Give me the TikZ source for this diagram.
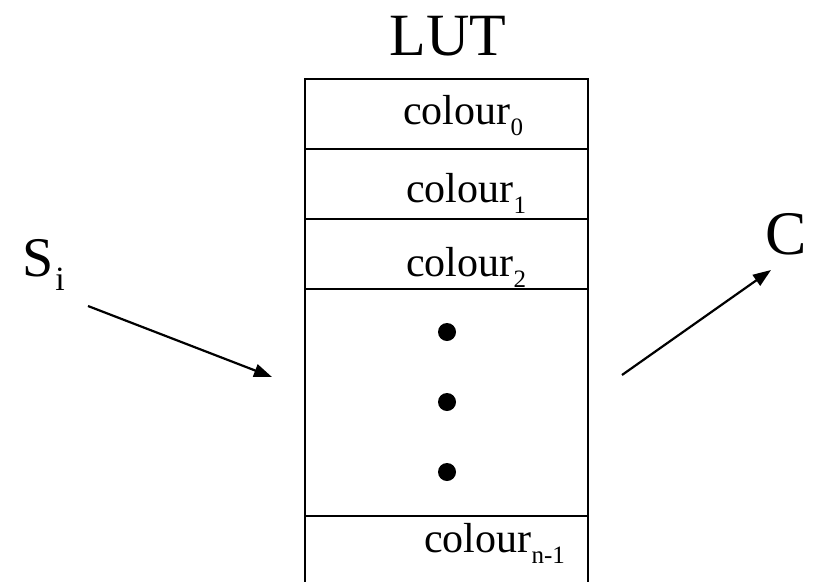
\documentclass[tikz,border=0pt]{standalone}
\usepackage{fontspec}
\setmainfont{Liberation Serif}
\usetikzlibrary{arrows.meta}

% subscript helper: size, drop, text
\newcommand\lowsub[3]{\raisebox{-#2}{\fontsize{#1}{#1}\selectfont #3}}

\tikzset{
  rule/.style={line width=2.4pt, line cap=rect},
  entry/.style={anchor=base west, inner sep=0pt, font=\fontsize{42pt}{46pt}\selectfont},
  label/.style={inner sep=0pt},
  flow/.style={line width=2.2pt, -{Triangle[length=18pt,width=13pt]}},
  dot/.style={circle, fill=black, inner sep=0pt, minimum size=18pt},
}

\begin{document}
\begin{tikzpicture}[x=1pt,y=-1pt]
  \useasboundingbox (0,0) rectangle (821,581);

  % table outline (runs past the lower edge)
  \draw[rule] (305,590) -- (305,79) -- (588,79) -- (588,590);
  \draw[rule] (305,149) -- (588,149);
  \draw[rule] (305,219) -- (588,219);
  \draw[rule] (305,289) -- (588,289);
  \draw[rule] (305,516) -- (588,516);

  % title
  \node[label, anchor=base, font=\fontsize{60pt}{64pt}\selectfont] (lut) at (448,55) {LUT};

  % table entries
  \node[entry] (c0) at (403,124) {colour\lowsub{25pt}{11pt}{0}};
  \node[entry] (c1) at (406,202) {colour\lowsub{25pt}{11pt}{1}};
  \node[entry] (c2) at (406,276) {colour\lowsub{25pt}{11pt}{2}};
  \node[entry] (cn) at (424,552) {colour\lowsub{25pt}{11pt}{n-1}};

  % ellipsis dots
  \node[dot] (d1) at (447,332) {};
  \node[dot] (d2) at (447,402) {};
  \node[dot] (d3) at (447,472) {};

  % input and output labels
  \node[label, anchor=base west, font=\fontsize{56pt}{60pt}\selectfont] (si) at (22,276) {S\kern2pt\lowsub{34pt}{14pt}{i}};
  \node[label, anchor=base, font=\fontsize{62pt}{66pt}\selectfont] (cout) at (786,254) {C};

  % input / output arrows
  \coordinate (inA) at (88,306);
  \coordinate (inB) at (272,377);
  \coordinate (outA) at (622,375);
  \coordinate (outB) at (771,270);
  \draw[flow] (inA) -- (inB);
  \draw[flow] (outA) -- (outB);
\end{tikzpicture}
\end{document}
